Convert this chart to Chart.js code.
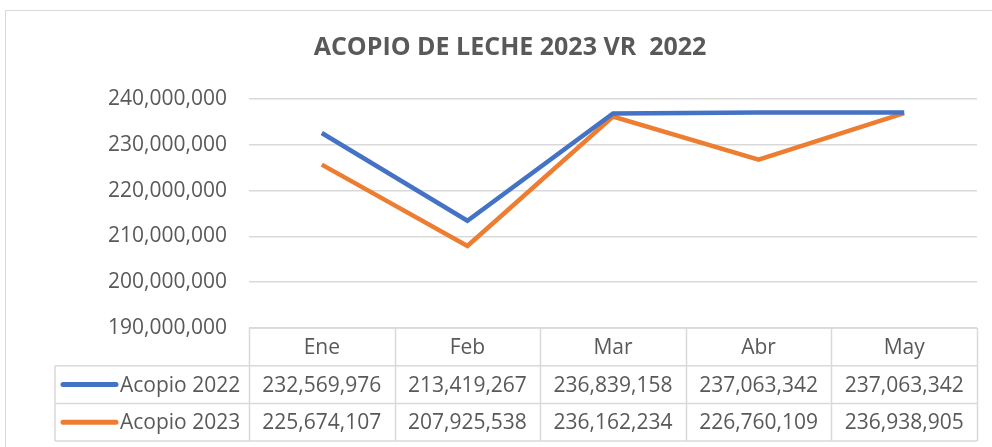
<!DOCTYPE html>
<html>
<head>
<meta charset="utf-8">
<script src="https://cdn.jsdelivr.net/npm/chart.js@4"></script>
<style>
  html, body { margin: 0; padding: 0; background: #fff; }
  #wrap { width: 992px; height: 447px; position: relative; }
</style>
</head>
<body>
<div id="wrap"><canvas id="chart" width="992" height="447"></canvas></div>
<script>
// data
const months = ["Ene", "Feb", "Mar", "Abr", "May"];
const acopio2022 = [232569976, 213419267, 236839158, 237063342, 237063342];
const acopio2023 = [225674107, 207925538, 236162234, 226760109, 236938905];
const yTicks = [190000000, 200000000, 210000000, 220000000, 230000000, 240000000];

const titleText = "ACOPIO DE LECHE 2023 VR  2022";
const textColor = "#595959";
const gridColor = "#d9d9d9";
const font = "'Open Sans', sans-serif";

const fmt = (v) => v.toLocaleString("en-US");

// title, outer frame and the data table under the plot
const tablePlugin = {
  id: "dataTable",
  afterDraw(chart) {
    const ctx = chart.ctx;
    const area = chart.chartArea;
    const xs = chart.scales.x;
    const colW = (area.right - area.left) / months.length;
    const rowH = 37.7;
    const top = area.bottom;
    const keyLeft = 55;

    ctx.save();
    // frame
    ctx.strokeStyle = gridColor;
    ctx.lineWidth = 1;
    ctx.beginPath();
    ctx.moveTo(5.5, 460);
    ctx.lineTo(5.5, 10.5);
    ctx.lineTo(1000, 10.5);
    ctx.stroke();

    // title
    ctx.fillStyle = textColor;
    ctx.font = "bold 25px " + font;
    ctx.textAlign = "center";
    ctx.textBaseline = "middle";
    ctx.fillText(titleText, 510, 48);

    // table lines
    ctx.strokeStyle = gridColor;
    ctx.lineWidth = 1.5;
    ctx.beginPath();
    ctx.moveTo(area.left, top);
    ctx.lineTo(area.right, top);
    for (let r = 1; r <= 3; r++) {
      ctx.moveTo(keyLeft, top + r * rowH);
      ctx.lineTo(area.right, top + r * rowH);
    }
    ctx.moveTo(keyLeft, top + rowH);
    ctx.lineTo(keyLeft, top + 3 * rowH);
    for (let i = 0; i <= months.length; i++) {
      const x = Math.round(area.left + i * colW) + 0.5;
      ctx.moveTo(x, top);
      ctx.lineTo(x, top + 3 * rowH);
    }
    ctx.stroke();

    // cell text
    ctx.fillStyle = textColor;
    ctx.font = "21px " + font;
    ctx.textAlign = "center";
    ctx.textBaseline = "middle";
    const rows = [months, acopio2022.map(fmt), acopio2023.map(fmt)];
    rows.forEach((row, r) => {
      row.forEach((t, i) => {
        ctx.fillText(t, xs.getPixelForValue(i), top + r * rowH + rowH / 2 + 1);
      });
    });

    // legend keys
    chart.data.datasets.forEach((ds, d) => {
      const y = top + (d + 1) * rowH + rowH / 2;
      ctx.strokeStyle = ds.borderColor;
      ctx.lineWidth = 5;
      ctx.lineCap = "round";
      ctx.beginPath();
      ctx.moveTo(63, y);
      ctx.lineTo(116, y);
      ctx.stroke();
      ctx.fillStyle = textColor;
      ctx.textAlign = "left";
      ctx.fillText(ds.label, 120, y + 1);
    });
    ctx.restore();
  },
};

new Chart(document.getElementById("chart"), {
  type: "line",
  data: {
    labels: months,
    datasets: [
      {
        label: "Acopio 2022",
        data: acopio2022,
        borderColor: "#4472C4",
        borderWidth: 4.5,
        pointRadius: 0,
        tension: 0,
      },
      {
        label: "Acopio 2023",
        data: acopio2023,
        borderColor: "#ED7D31",
        borderWidth: 4.5,
        pointRadius: 0,
        tension: 0,
      },
    ],
  },
  options: {
    responsive: false,
    animation: false,
    layout: { padding: { top: 99, right: 15, bottom: 119, left: 0 } },
    plugins: {
      legend: { display: false },
      title: { display: false },
      tooltip: { enabled: false },
    },
    scales: {
      x: {
        display: false,
        offset: true,
      },
      y: {
        min: yTicks[0],
        max: yTicks[yTicks.length - 1],
        afterBuildTicks: (scale) => {
          scale.ticks = yTicks.map((v) => ({ value: v }));
        },
        afterFit: (scale) => {
          scale.width = 249;
        },
        border: { display: false },
        grid: { color: gridColor, lineWidth: 1.5, drawTicks: false },
        ticks: {
          color: textColor,
          font: { family: "'Open Sans', sans-serif", size: 21 },
          padding: 22,
          callback: (v) => fmt(v),
        },
      },
    },
  },
  plugins: [tablePlugin],
});
</script>
</body>
</html>
